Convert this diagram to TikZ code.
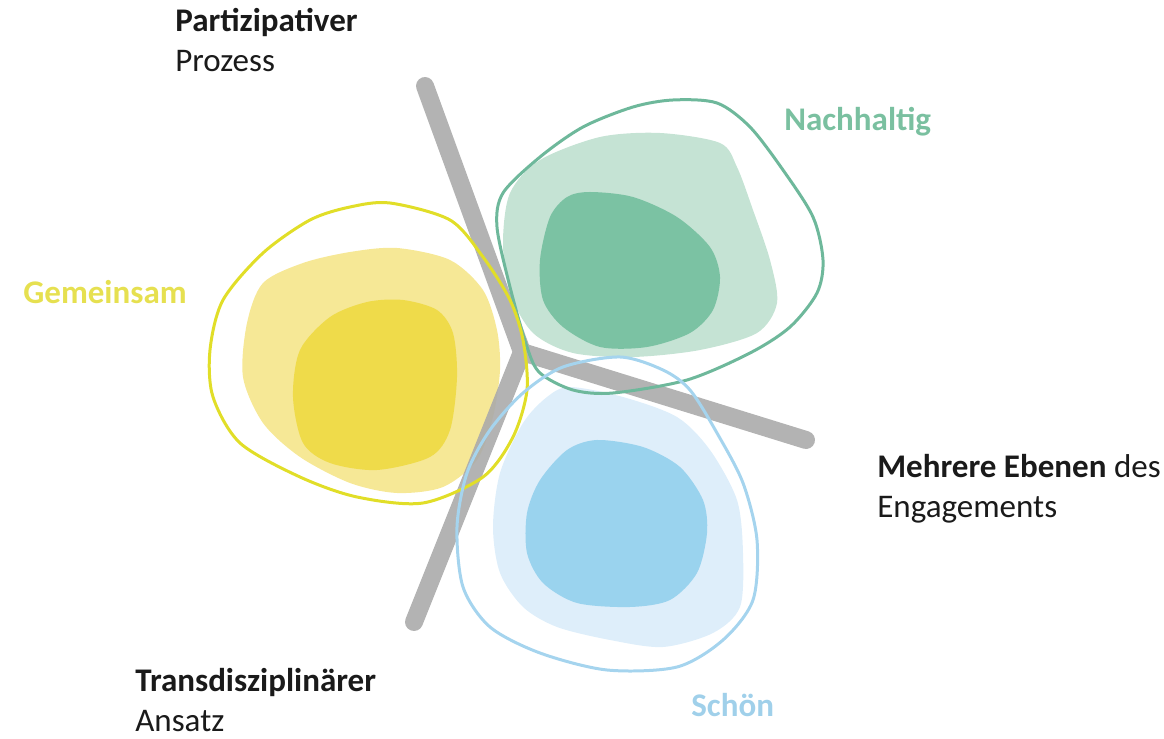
\documentclass[tikz,border=0pt]{standalone}
\usepackage{fontspec}
\setmainfont{Carlito}
\usepackage{xcolor}
\usepackage{tikz}

\definecolor{barGray}{RGB}{171,171,171}
\definecolor{greenRim}{RGB}{110,184,155}
\definecolor{greenLight}{RGB}{197,227,212}
\definecolor{greenDark}{RGB}{123,194,163}
\definecolor{yellowRim}{RGB}{225,222,40}
\definecolor{yellowLight}{RGB}{246,232,150}
\definecolor{yellowDark}{RGB}{239,219,74}
\definecolor{blueRim}{RGB}{165,212,238}
\definecolor{blueLight}{RGB}{222,238,250}
\definecolor{blueDark}{RGB}{154,211,238}
\definecolor{greenText}{RGB}{122,192,160}
\definecolor{yellowText}{RGB}{230,224,80}
\definecolor{blueText}{RGB}{160,208,234}
\definecolor{inkText}{RGB}{26,26,26}

\begin{document}
\begin{tikzpicture}[x=0.02cm, y=-0.02cm,
    bar/.style={line width=0.36cm, draw=barGray, draw opacity=0.9, line cap=round, line join=round},
    rim/.style={line width=0.06cm},
    lbl/.style={anchor=base west, inner sep=0pt, align=left, text=inkText, font=\fontsize{18.8}{22.8}\selectfont}]
  \useasboundingbox (0,0) rectangle (1164,739);

  % fills
  \fill[greenLight] plot[smooth cycle] coordinates {(660,133) (720,143) (737,167) (753,210) (770,260) (777,303) (757,333) (700,350) (633,357) (573,353) (533,333) (510,293) (503,243) (510,193) (540,160) (600,137)};
  \fill[greenDark] plot[smooth cycle] coordinates {(590,192) (633,197) (677,217) (710,247) (720,277) (713,310) (690,333) (647,347) (600,347) (563,327) (543,300) (540,260) (550,217) (567,197)};
  \fill[yellowLight] plot[smooth cycle] coordinates {(397,248) (450,260) (483,290) (497,330) (500,370) (493,417) (477,460) (443,487) (397,493) (350,483) (300,457) (263,423) (243,377) (247,323) (263,283) (303,263) (350,252)};
  \fill[yellowDark] plot[smooth cycle] coordinates {(403,300) (437,310) (453,333) (457,377) (450,430) (430,457) (377,470) (330,463) (303,443) (293,397) (300,350) (330,317) (367,302)};
  \fill[blueLight] plot[smooth cycle] coordinates {(570,387) (623,397) (677,417) (710,450) (737,500) (743,553) (740,607) (713,633) (663,647) (610,640) (557,627) (523,607) (500,573) (493,527) (500,473) (523,423) (547,397)};
  \fill[blueDark] plot[smooth cycle] coordinates {(597,440) (643,447) (680,467) (703,500) (707,533) (697,573) (670,600) (630,607) (577,603) (543,583) (527,553) (527,513) (540,480) (567,450)};

  % the three arms
  \coordinate (hub) at (522,352);
  \draw[bar] (425,86) -- (hub) -- (806,440) (hub) -- (414,622);

  % outlines
  \draw[rim, greenRim] plot[smooth cycle] coordinates {(673,100) (717,103) (750,127) (783,170) (813,217) (823,260) (817,293) (790,327) (750,353) (687,380) (613,393) (573,390) (540,373) (527,347) (510,287) (497,227) (503,193) (540,157) (583,127) (633,107)};
  \draw[rim, yellowRim] plot[smooth cycle] coordinates {(390,203) (450,220) (483,257) (510,300) (523,340) (527,390) (513,437) (483,477) (423,503) (357,497) (300,477) (240,443) (213,397) (210,350) (223,300) (263,253) (310,220) (350,207)};
  \draw[rim, blueRim] plot[smooth cycle] coordinates {(620,357) (663,370) (690,390) (717,433) (743,483) (757,540) (753,600) (723,640) (677,667) (607,670) (540,653) (490,627) (463,587) (457,527) (467,473) (490,430) (523,393) (563,367)};

  % labels (base = last line)
  \node[lbl] (partizipativ) at (175,72) {\textbf{Partizipativer}\\Prozess};
  \node[lbl, text=greenText] (nachhaltig) at (784,131) {\textbf{Nachhaltig}};
  \node[lbl, text=yellowText] (gemeinsam) at (23,304) {\textbf{Gemeinsam}};
  \node[lbl] (ebenen) at (877,518) {\textbf{Mehrere Ebenen} des\\Engagements};
  \node[lbl] (transdisz) at (135,732) {\textbf{Transdisziplinärer}\\Ansatz};
  \node[lbl, text=blueText] (schoen) at (691,717) {\textbf{Schön}};
\end{tikzpicture}
\end{document}
